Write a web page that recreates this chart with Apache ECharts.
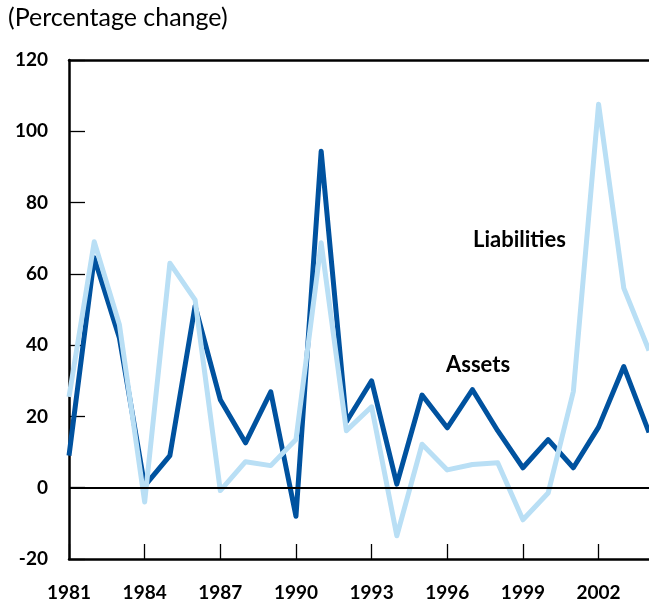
<!DOCTYPE html>
<html>
<head>
<meta charset="utf-8">
<script src="https://cdn.jsdelivr.net/npm/echarts@6/dist/echarts.min.js"></script>
<style>
html,body{margin:0;padding:0;background:#fff;}
#chart{width:649px;height:607px;}
</style>
</head>
<body>
<div id="chart"></div>
<script>
const years = ['1981','1982','1983','1984','1985','1986','1987','1988','1989','1990','1991','1992','1993','1994','1995','1996','1997','1998','1999','2000','2001','2002','2003','2004'];
const assets = [9, 64.5, 42, 0.5, 9, 51, 24.7, 12.6, 26.9, -8, 94.4, 18.5, 30, 1, 26, 16.8, 27.5, 16, 5.6, 13.5, 5.6, 17, 34, 15.5];
const liabilities = [25.5, 69, 45.7, -4, 63, 52.7, -0.8, 7.3, 6.2, 13.5, 68.7, 16, 22.7, -13.5, 12.2, 5, 6.5, 7, -9, -1.5, 27, 107.6, 56, 38.5];
const yTicks = { min: -20, max: 120, step: 20 };
const title = '(Percentage change)';
const seriesNames = ['Assets', 'Liabilities'];

const chart = echarts.init(document.getElementById('chart'), null, {renderer: 'canvas'});
const font = 'Lato, "Liberation Sans", sans-serif';
chart.setOption({
  animation: false,
  grid: { left: 69, right: 0, top: 60, bottom: 48, containLabel: false },
  xAxis: [{
    type: 'category', data: years, boundaryGap: false, position: 'bottom',
    axisLine: { show: true, onZero: false, lineStyle: { color: '#000', width: 2.5 } },
    axisTick: { show: true, inside: true, length: 15, interval: 2, lineStyle: { color: '#000', width: 1.3 } },
    axisLabel: { interval: 2, margin: 24, color: '#000', fontWeight: 'bold', fontSize: 19, fontFamily: font },
    splitLine: { show: false }
  }, {
    type: 'category', data: years, boundaryGap: false, position: 'top',
    axisLine: { show: true, onZero: false, lineStyle: { color: '#000', width: 2.5 } },
    axisTick: { show: false }, axisLabel: { show: false }, splitLine: { show: false }
  }],
  yAxis: {
    type: 'value', min: yTicks.min, max: yTicks.max, interval: yTicks.step,
    axisLine: { show: true, onZero: false, lineStyle: { color: '#000', width: 2.5 } },
    axisTick: { show: true, inside: true, length: 16, lineStyle: { color: '#000', width: 1.3 } },
    axisLabel: { margin: 21, color: '#000', fontWeight: 'bold', fontSize: 19, fontFamily: font },
    splitLine: { show: false }
  },
  graphic: [
    { type: 'text', left: 8, top: 5, style: { text: title, fill: '#000', font: '25px ' + font } },
    { type: 'text', left: 446, top: 354, style: { text: seriesNames[0], fill: '#000', font: 'bold 22px ' + font } },
    { type: 'text', left: 473, top: 229, style: { text: seriesNames[1], fill: '#000', font: 'bold 22px ' + font } }
  ],
  series: [{
    name: seriesNames[0], type: 'line', data: assets, symbol: 'none',
    lineStyle: { color: '#00529F', width: 5, join: 'round' },
    markLine: { silent: true, symbol: 'none', label: { show: false },
      lineStyle: { color: '#000', width: 2, type: 'solid' }, data: [{ yAxis: 0 }] },
    z: 2
  }, {
    name: seriesNames[1], type: 'line', data: liabilities, symbol: 'none',
    lineStyle: { color: '#B9DFF5', width: 5, join: 'round' },
    z: 3
  }]
});
</script>
</body>
</html>
